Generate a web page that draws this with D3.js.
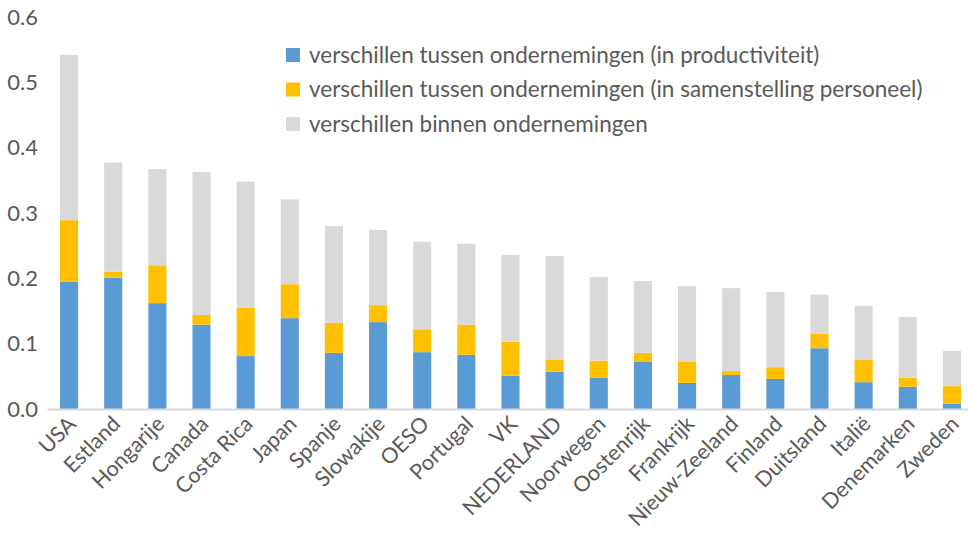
<!DOCTYPE html>
<html>
<head>
<meta charset="utf-8">
<script src="https://cdn.jsdelivr.net/npm/d3@7"></script>
<style>
  body { margin: 0; background: #fff; }
  text { font-family: Lato, "Open Sans", sans-serif; fill: #595959; }
</style>
</head>
<body>
<div class="canvas"></div>
<script>
const svgWidth = 968;
const svgHeight = 533;
const margins = { top: 17, bottom: 124, left: 47, right: -6 };
const graphHeight = svgHeight - margins.top - margins.bottom;
const graphWidth = svgWidth - margins.left - margins.right;

// data
const countries = ['USA', 'Estland', 'Hongarije', 'Canada', 'Costa Rica', 'Japan', 'Spanje',
    'Slowakije', 'OESO', 'Portugal', 'VK', 'NEDERLAND', 'Noorwegen', 'Oostenrijk', 'Frankrijk',
    'Nieuw-Zeeland', 'Finland', 'Duitsland', 'Italië', 'Denemarken', 'Zweden'];
const productiviteit = [0.195, 0.201, 0.162, 0.129, 0.081, 0.139, 0.086, 0.133, 0.087, 0.083,
    0.051, 0.057, 0.048, 0.072, 0.040, 0.052, 0.046, 0.093, 0.041, 0.034, 0.008];
const personeel = [0.094, 0.009, 0.058, 0.015, 0.074, 0.052, 0.046, 0.026, 0.035, 0.046,
    0.052, 0.018, 0.026, 0.014, 0.032, 0.006, 0.018, 0.022, 0.034, 0.014, 0.027];
const binnen = [0.253, 0.167, 0.147, 0.219, 0.193, 0.130, 0.148, 0.115, 0.134, 0.124,
    0.133, 0.159, 0.128, 0.110, 0.116, 0.127, 0.115, 0.060, 0.083, 0.093, 0.054];
const seriesNames = [
    'verschillen tussen ondernemingen (in productiviteit)',
    'verschillen tussen ondernemingen (in samenstelling personeel)',
    'verschillen binnen ondernemingen'
];
const seriesColors = ['#5b9bd5', '#ffc000', '#d9d9d9'];
const yTicks = [0, 0.1, 0.2, 0.3, 0.4, 0.5, 0.6];

const table = countries.map((c, i) => ({
    country: c, s0: productiviteit[i], s1: personeel[i], s2: binnen[i]
}));

const svg = d3.select('.canvas')
    .append('svg')
        .attr('width', svgWidth)
        .attr('height', svgHeight);

const graphGroup = svg.append('g')
    .attr('transform', `translate(${margins.left},${margins.top})`);

const x = d3.scaleBand()
    .domain(countries)
    .range([0, graphWidth])
    .paddingInner(0.59)
    .paddingOuter(0.295);
const y = d3.scaleLinear().domain([0, 0.6]).range([graphHeight, 0]);

const stack = d3.stack().keys(['s0', 's1', 's2']);
const stacked = stack(table);

// bars
graphGroup.selectAll('g.series')
    .data(stacked)
    .enter()
    .append('g')
        .attr('class', 'series')
        .attr('fill', (d, i) => seriesColors[i])
    .selectAll('rect')
    .data(d => d)
    .enter()
    .append('rect')
        .attr('x', d => x(d.data.country))
        .attr('width', x.bandwidth())
        .attr('y', d => y(d[1]))
        .attr('height', d => y(d[0]) - y(d[1]));

// axes
const xAxisGroup = graphGroup.append('g')
    .attr('transform', `translate(0,${graphHeight})`);
xAxisGroup.call(d3.axisBottom(x).tickSize(0).tickPadding(0));
xAxisGroup.select('.domain').attr('stroke', '#d9d9d9').attr('stroke-width', 2);
xAxisGroup.selectAll('text')
    .attr('font-size', 21.5)
    .attr('text-anchor', 'end')
    .attr('fill', '#595959')
    .attr('transform', 'translate(3,11) rotate(-45)')
    .attr('dy', '0.35em')
    .attr('y', 0);

const yAxisGroup = graphGroup.append('g');
yAxisGroup.call(d3.axisLeft(y).tickValues(yTicks).tickFormat(d3.format('.1f')).tickSize(0).tickPadding(9));
yAxisGroup.select('.domain').remove();
yAxisGroup.selectAll('text')
    .attr('font-size', 22)
    .attr('fill', '#595959');

// legend
const legend = svg.append('g')
    .attr('transform', 'translate(286,48)');
const items = legend.selectAll('g')
    .data(seriesNames)
    .enter()
    .append('g')
        .attr('transform', (d, i) => `translate(0,${i * 34.5})`);
items.append('rect')
    .attr('width', 14)
    .attr('height', 14)
    .attr('fill', (d, i) => seriesColors[i]);
items.append('text')
    .attr('x', 23)
    .attr('y', 7)
    .attr('dy', '0.35em')
    .attr('font-size', 22.5)
    .text(d => d);
</script>
</body>
</html>
